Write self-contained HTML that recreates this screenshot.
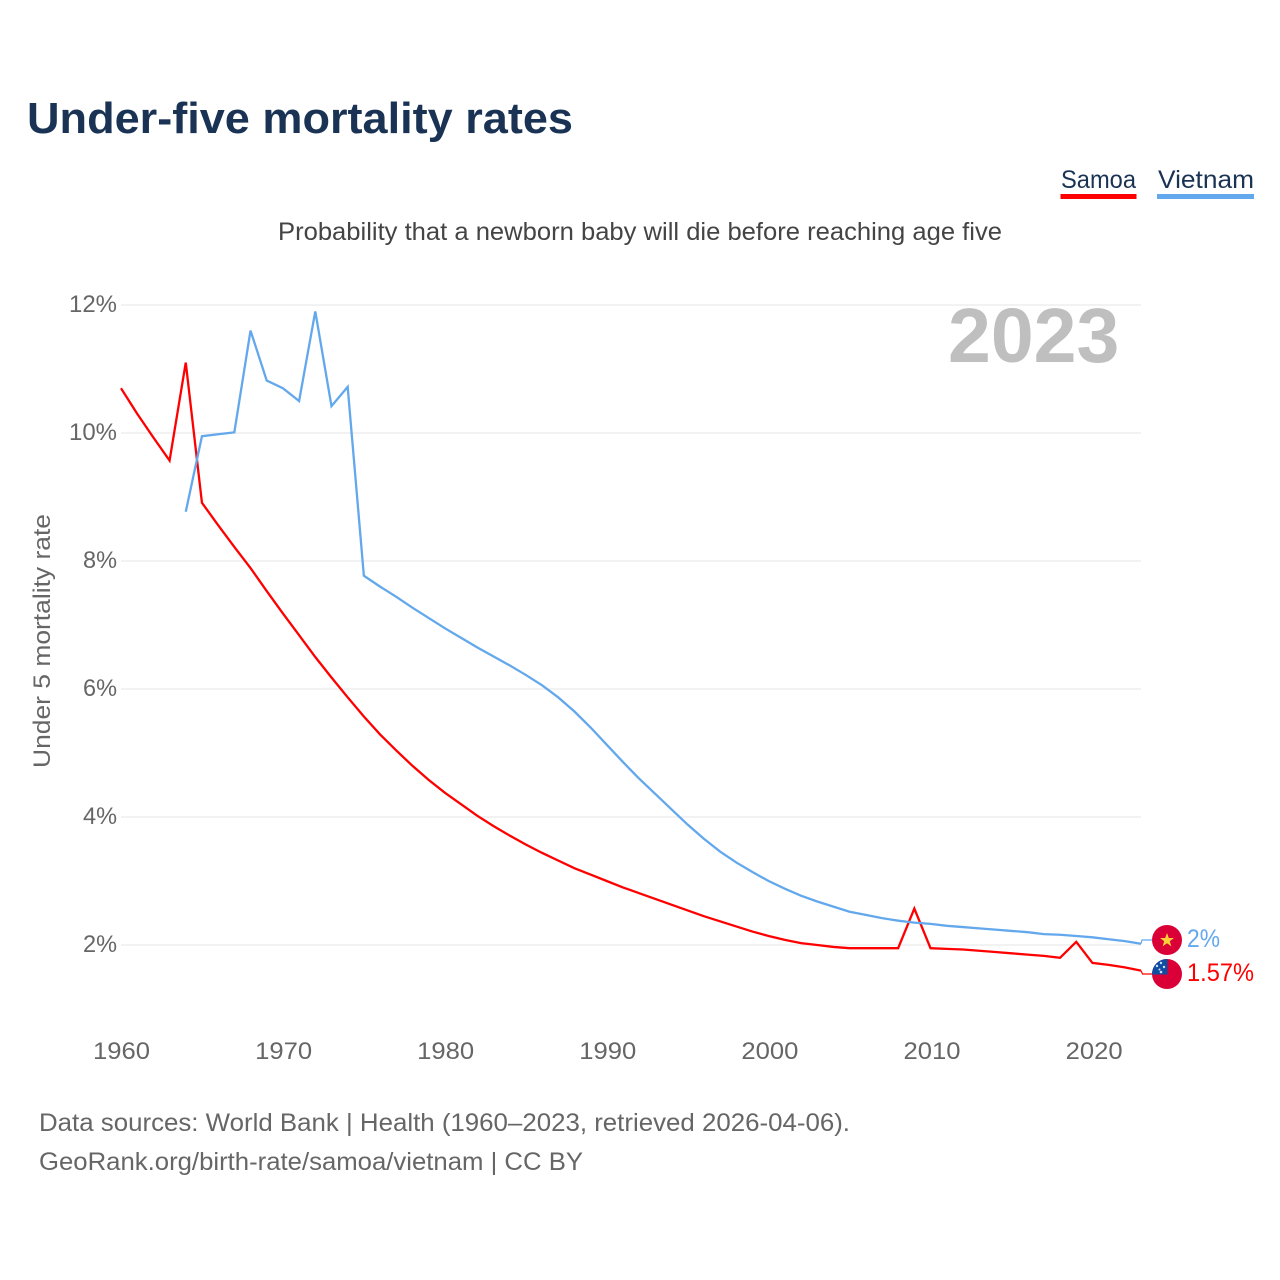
<!DOCTYPE html>
<html lang="en">
<head>
<meta charset="utf-8">
<title>Under-five mortality rates</title>
<style>
html,body{margin:0;padding:0;background:#fff;}
svg{display:block;font-family:"Liberation Sans",sans-serif;}
</style>
</head>
<body>
<svg id="chart" width="1280" height="1280" viewBox="0 0 1280 1280" xmlns="http://www.w3.org/2000/svg">
  <rect width="1280" height="1280" fill="#fff"/>
  <text x="27" y="133" font-size="44" font-weight="700" fill="#1a3354" textLength="546" lengthAdjust="spacingAndGlyphs">Under-five mortality rates</text>
  <g>
    <text x="1061" y="188" font-size="25" fill="#1a3354" textLength="75" lengthAdjust="spacingAndGlyphs">Samoa</text>
    <rect x="1060.5" y="194" width="76" height="5" fill="#ff0000"/>
  </g>
  <g>
    <text x="1158" y="188" font-size="25" fill="#1a3354" textLength="96" lengthAdjust="spacingAndGlyphs">Vietnam</text>
    <rect x="1157" y="194" width="97" height="5" fill="#63a8ec"/>
  </g>
  <text x="278" y="240" font-size="25" fill="#444" textLength="724" lengthAdjust="spacingAndGlyphs">Probability that a newborn baby will die before reaching age five</text>
  <g id="grid"></g>
  <g id="yticks"></g>
  <g id="xticks"></g>
  <text x="948" y="362" font-size="77" font-weight="700" fill="#bfbfbf">2023</text>
  <text transform="translate(50,768) rotate(-90)" x="0" y="0" font-size="24" fill="#666" textLength="254" lengthAdjust="spacingAndGlyphs">Under 5 mortality rate</text>
  <g id="series"></g>
  <g>
    <circle cx="1167" cy="940" r="15" fill="#da0037"/>
    <polygon points="1167,933 1168.8,938 1174,938 1169.8,941.2 1171.4,946.4 1167,943.2 1162.6,946.4 1164.2,941.2 1160,938 1165.2,938" fill="#ffcf3a"/>
  </g>
  <g>
    <clipPath id="samoa-clip"><circle cx="1167" cy="974" r="15"/></clipPath>
    <g clip-path="url(#samoa-clip)">
      <rect x="1152" y="959" width="30" height="30" fill="#da0037"/>
      <rect x="1152" y="959" width="15.5" height="15.5" fill="#0f4da3"/>
      <circle cx="1161" cy="963" r="1.2" fill="#cfe0f5"/>
      <circle cx="1157" cy="966" r="1.2" fill="#cfe0f5"/>
      <circle cx="1164" cy="967" r="1.2" fill="#cfe0f5"/>
      <circle cx="1159.5" cy="969.5" r="1" fill="#cfe0f5"/>
      <circle cx="1161" cy="972" r="1.3" fill="#cfe0f5"/>
    </g>
  </g>
  <text x="1187" y="947" font-size="25" fill="#63a8ec" textLength="33" lengthAdjust="spacingAndGlyphs">2%</text>
  <text x="1187" y="981" font-size="25" fill="#ff0000" textLength="67" lengthAdjust="spacingAndGlyphs">1.57%</text>
  <text x="39" y="1131" font-size="25" fill="#666" textLength="811" lengthAdjust="spacingAndGlyphs">Data sources: World Bank | Health (1960–2023, retrieved 2026-04-06).</text>
  <text x="39" y="1170" font-size="25" fill="#666" textLength="544" lengthAdjust="spacingAndGlyphs">GeoRank.org/birth-rate/samoa/vietnam | CC BY</text>
</svg>
<script>
const years = [1960,1961,1962,1963,1964,1965,1966,1967,1968,1969,1970,1971,1972,1973,1974,1975,1976,1977,1978,1979,1980,1981,1982,1983,1984,1985,1986,1987,1988,1989,1990,1991,1992,1993,1994,1995,1996,1997,1998,1999,2000,2001,2002,2003,2004,2005,2006,2007,2008,2009,2010,2011,2012,2013,2014,2015,2016,2017,2018,2019,2020,2021,2022,2023];
const samoaValues = [10.7,10.3,9.93,9.57,11.1,8.91,8.56,8.22,7.89,7.53,7.18,6.84,6.5,6.18,5.87,5.57,5.29,5.04,4.8,4.58,4.38,4.2,4.02,3.86,3.71,3.57,3.44,3.32,3.2,3.1,3.0,2.9,2.81,2.72,2.63,2.54,2.45,2.37,2.29,2.21,2.14,2.08,2.03,2.0,1.97,1.95,1.95,1.95,1.95,2.57,1.95,1.94,1.93,1.91,1.89,1.87,1.85,1.83,1.8,2.05,1.72,1.69,1.65,1.6];
const vietnamValues = [null,null,null,null,8.77,9.95,9.98,10.01,11.6,10.82,10.7,10.5,11.9,10.42,10.72,7.77,7.6,7.44,7.27,7.11,6.95,6.8,6.65,6.51,6.37,6.22,6.06,5.87,5.65,5.4,5.13,4.86,4.6,4.36,4.12,3.88,3.66,3.46,3.29,3.14,3.0,2.88,2.77,2.68,2.6,2.52,2.47,2.42,2.38,2.35,2.33,2.3,2.28,2.26,2.24,2.22,2.2,2.17,2.16,2.14,2.12,2.09,2.06,2.02];
const yTickValues = [2,4,6,8,10,12];
const yTickLabels = ["2%","4%","6%","8%","10%","12%"];
const xTickValues = [1960,1970,1980,1990,2000,2010,2020];
const xTickLabels = ["1960","1970","1980","1990","2000","2010","2020"];

const NS = "http://www.w3.org/2000/svg";
const xScale = v => 121 + (v - 1960) * (1141 - 121) / 63;
const yScale = v => 945 - (v - 2) * 64;
const xLabelScale = v => 121.5 + (v - 1960) * 16.21;

const grid = document.getElementById("grid");
const yticks = document.getElementById("yticks");
yTickValues.forEach((v, i) => {
  const line = document.createElementNS(NS, "line");
  
  
  line.setAttribute("x1", 121);
  line.setAttribute("x2", 1141);
  line.setAttribute("y1", yScale(v));
  line.setAttribute("y2", yScale(v));
  line.setAttribute("stroke", "#ebebeb");
  line.setAttribute("stroke-width", "1.3");
  grid.appendChild(line);
  const t = document.createElementNS(NS, "text");
  
  
  t.setAttribute("x", 117);
  t.setAttribute("y", yScale(v) + 7);
  t.setAttribute("text-anchor", "end");
  t.setAttribute("font-size", "24");
  t.setAttribute("fill", "#666");
  t.setAttribute("textLength", yTickLabels[i].length === 3 ? 48 : 34);
  t.setAttribute("lengthAdjust", "spacingAndGlyphs");
  t.textContent = yTickLabels[i];
  yticks.appendChild(t);
});

const xticks = document.getElementById("xticks");
xTickValues.forEach((v, i) => {
  const t = document.createElementNS(NS, "text");
  
  
  t.setAttribute("x", xLabelScale(v));
  t.setAttribute("y", 1059);
  t.setAttribute("text-anchor", "middle");
  t.setAttribute("font-size", "24");
  t.setAttribute("fill", "#666");
  t.setAttribute("textLength", 57);
  t.setAttribute("lengthAdjust", "spacingAndGlyphs");
  t.textContent = xTickLabels[i];
  xticks.appendChild(t);
});

const seriesGroup = document.getElementById("series");
function pathFor(values) {
  const parts = [];
  values.forEach((v, i) => {
    if (v === null) return;
    parts.push((parts.length ? "L" : "M") + xScale(years[i]).toFixed(2) + " " + yScale(v).toFixed(2));
  });
  return parts.join(" ");
}

const samoaLine = document.createElementNS(NS, "path");


samoaLine.setAttribute("d", pathFor(samoaValues));
samoaLine.setAttribute("fill", "none");
samoaLine.setAttribute("stroke", "#ff0000");
samoaLine.setAttribute("stroke-width", "2.3");
samoaLine.setAttribute("stroke-linejoin", "miter");
seriesGroup.appendChild(samoaLine);

const vietnamLine = document.createElementNS(NS, "path");


vietnamLine.setAttribute("d", pathFor(vietnamValues));
vietnamLine.setAttribute("fill", "none");
vietnamLine.setAttribute("stroke", "#63a8ec");
vietnamLine.setAttribute("stroke-width", "2.3");
vietnamLine.setAttribute("stroke-linejoin", "miter");
seriesGroup.appendChild(vietnamLine);

const samoaConnector = document.createElementNS(NS, "path");


samoaConnector.setAttribute("d", "M" + xScale(2023) + " " + yScale(samoaValues[63]) + " L1142.5 974 L1152 974");
samoaConnector.setAttribute("fill", "none");
samoaConnector.setAttribute("stroke", "#ff0000");
samoaConnector.setAttribute("stroke-width", "1.2");
seriesGroup.appendChild(samoaConnector);

const vietnamConnector = document.createElementNS(NS, "path");


vietnamConnector.setAttribute("d", "M" + xScale(2023) + " " + yScale(vietnamValues[63]) + " L1142 940 L1152 940");
vietnamConnector.setAttribute("fill", "none");
vietnamConnector.setAttribute("stroke", "#63a8ec");
vietnamConnector.setAttribute("stroke-width", "1.2");
seriesGroup.appendChild(vietnamConnector);
</script>
</body>
</html>
